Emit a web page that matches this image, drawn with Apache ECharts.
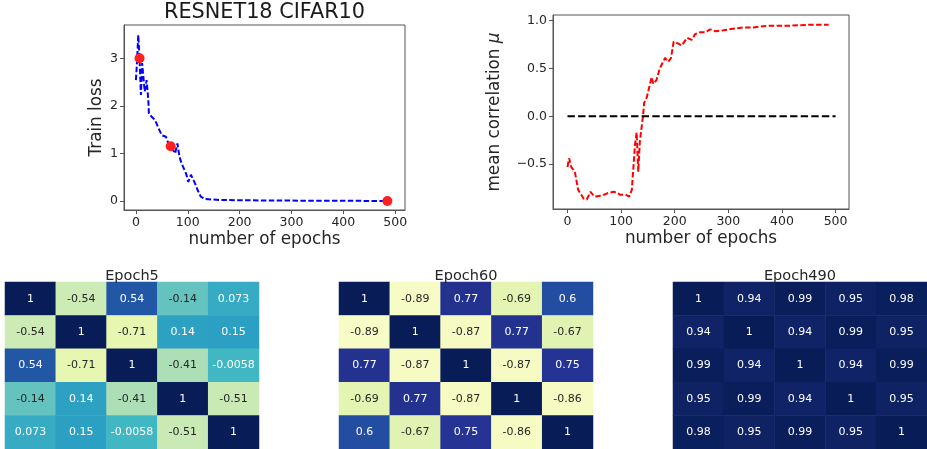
<!DOCTYPE html>
<html>
<head>
<meta charset="utf-8">
<script src="https://cdn.jsdelivr.net/npm/echarts@6/dist/echarts.min.js"></script>
<style>
html,body{margin:0;padding:0;background:#fff;}
#chart{width:927px;height:449px;}
</style>
</head>
<body>
<div id="chart"></div>
<script>
// ---- data ----
const lossEpochs = [0,2,4.5,7,9.6,12,14,17,20.6,23.9,25,30.4,37,43.5,50,58,62.7,67,75.6,80,84,88,96.6,101,106,114,119,125,133,162,250,350,490];
const lossValues = [2.54,2.9,3.49,3.0,2.23,2.9,2.86,2.3,2.54,2.12,1.84,1.77,1.70,1.53,1.38,1.35,1.21,1.15,1.0,1.21,0.93,0.79,0.58,0.40,0.55,0.37,0.23,0.09,0.04,0.02,0.01,0.005,0.0];
const markerEpochs = [7,67,485];
const markerLoss = [3.0,1.15,0.0];

const corrEpochs = [0,3,7,11,14,20,30,36,43,50,64,77,86,92,98,108,115,120,123,126,129,132,135,141,143,148,157,160,166,172,182,188,193,198,207,213,223,232,238,248,257,266,276,291,301,328,347,372,409,447,487];
const corrValues = [-0.53,-0.44,-0.53,-0.56,-0.59,-0.77,-0.86,-0.87,-0.79,-0.84,-0.83,-0.80,-0.79,-0.80,-0.82,-0.82,-0.84,-0.77,-0.53,-0.29,-0.17,-0.58,-0.26,0.01,0.14,0.2,0.41,0.34,0.38,0.50,0.61,0.57,0.61,0.78,0.76,0.74,0.82,0.80,0.86,0.88,0.88,0.91,0.89,0.90,0.91,0.93,0.93,0.947,0.947,0.957,0.957];
const zeroLineX = [0,500];
const zeroLineY = [0,0];

const epochTickValues = [0,100,200,300,400,500];
const lossTickValues = [0,1,2,3];
const corrTickValues = [-0.5,0,0.5,1.0];

const heatTitles = ['Epoch5','Epoch60','Epoch490'];
const epoch5 = [[1,-0.54,0.54,-0.14,0.073],[-0.54,1,-0.71,0.14,0.15],[0.54,-0.71,1,-0.41,-0.0058],[-0.14,0.14,-0.41,1,-0.51],[0.073,0.15,-0.0058,-0.51,1]];
const epoch60 = [[1,-0.89,0.77,-0.69,0.6],[-0.89,1,-0.87,0.77,-0.67],[0.77,-0.87,1,-0.87,0.75],[-0.69,0.77,-0.87,1,-0.86],[0.6,-0.67,0.75,-0.86,1]];
const epoch490 = [[1,0.94,0.99,0.95,0.98],[0.94,1,0.94,0.99,0.95],[0.99,0.94,1,0.94,0.99],[0.95,0.99,0.94,1,0.95],[0.98,0.95,0.99,0.95,1]];
const cellIdx = [0,1,2,3,4];

// ---- build ----
const FONT = 'DejaVu Sans';
const TXT = '#262626';
const AX = '#555';
const ylgnbu = ['#ffffd9','#edf8b1','#c7e9b4','#7fcdbb','#41b6c4','#1d91c0','#225ea8','#253494','#081d58'];

function pairs(xs, ys){ return xs.map((x,i)=>[x, ys[i]]); }
function heatData(m){
  const out = [];
  m.forEach((row, r) => row.forEach((v, c) => {
    out.push({value:[c, r, v], label:{color: v < -0.1 ? TXT : '#ffffff'}});
  }));
  return out;
}
const minusFmt = v => (v < 0 ? '\u2212' : '') + Math.abs(v).toFixed(1);

const lineAxisCommon = {
  type:'value',
  axisLine:{show:true, onZero:false, lineStyle:{color:AX, width:1}},
  axisTick:{show:true, length:4, lineStyle:{color:AX}},
  splitLine:{show:false},
  nameLocation:'middle',
  nameTextStyle:{fontFamily:FONT, fontSize:16.8, color:TXT}
};

const heatGrids = [
  {left:5, top:282, width:254, height:168},
  {left:339, top:282, width:254, height:168},
  {left:673, top:282, width:254, height:168}
];

const option = {
  animation:false,
  backgroundColor:'#fff',
  title:[
    {text:'RESNET18 CIFAR10', left:264.5, top:2, textAlign:'center', padding:0,
     textStyle:{fontFamily:FONT, fontSize:20.8, fontWeight:'normal', color:'#1a1a1a'}},
    ...heatTitles.map((t,i)=>({text:t, left:heatGrids[i].left+127, top:269, textAlign:'center', padding:0,
     textStyle:{fontFamily:FONT, fontSize:14.5, fontWeight:'normal', color:TXT}}))
  ],
  grid:[
    {left:124, top:25, width:281, height:185, show:true, borderColor:AX, borderWidth:1},
    {left:553, top:15, width:296, height:194, show:true, borderColor:AX, borderWidth:1},
    ...heatGrids
  ],
  xAxis:[
    Object.assign({}, lineAxisCommon, {gridIndex:0, min:-23, max:519, name:'number of epochs', nameGap:21,
      axisTick:{show:true, length:4, lineStyle:{color:AX}, customValues:epochTickValues},
      axisLabel:{fontFamily:FONT, fontSize:12.5, color:TXT, margin:6, customValues:epochTickValues}}),
    Object.assign({}, lineAxisCommon, {gridIndex:1, min:-27, max:525, name:'number of epochs', nameGap:21,
      axisTick:{show:true, length:4, lineStyle:{color:AX}, customValues:epochTickValues},
      axisLabel:{fontFamily:FONT, fontSize:12.5, color:TXT, margin:6, customValues:epochTickValues}}),
    {type:'category', gridIndex:2, data:cellIdx, show:false},
    {type:'category', gridIndex:3, data:cellIdx, show:false},
    {type:'category', gridIndex:4, data:cellIdx, show:false}
  ],
  yAxis:[
    Object.assign({}, lineAxisCommon, {gridIndex:0, min:-0.19, max:3.70, name:'Train loss', nameGap:19,
      axisTick:{show:true, length:4, lineStyle:{color:AX}, customValues:lossTickValues},
      axisLabel:{fontFamily:FONT, fontSize:12.5, color:TXT, margin:6, customValues:lossTickValues}}),
    Object.assign({}, lineAxisCommon, {gridIndex:1, min:-0.97, max:1.06, name:'mean correlation {i|μ}', nameGap:50,
      nameTextStyle:{fontFamily:FONT, fontSize:16.8, color:TXT, rich:{i:{fontFamily:FONT, fontSize:16.8, fontStyle:'italic', color:TXT}}},
      axisTick:{show:true, length:4, lineStyle:{color:AX}, customValues:corrTickValues},
      axisLabel:{fontFamily:FONT, fontSize:12.5, color:TXT, margin:6, customValues:corrTickValues, formatter:minusFmt}}),
    {type:'category', gridIndex:2, data:cellIdx, show:false, inverse:true},
    {type:'category', gridIndex:3, data:cellIdx, show:false, inverse:true},
    {type:'category', gridIndex:4, data:cellIdx, show:false, inverse:true}
  ],
  visualMap:{
    show:false, type:'continuous', min:-1, max:1, dimension:2, seriesIndex:[4,5,6],
    inRange:{color:ylgnbu}
  },
  series:[
    {type:'line', xAxisIndex:0, yAxisIndex:0, data:pairs(lossEpochs, lossValues), showSymbol:false, symbol:'none',
     lineStyle:{color:'#0000ff', width:2, type:[5.5,2.4]}, z:2},
    {type:'scatter', xAxisIndex:0, yAxisIndex:0, data:pairs(markerEpochs, markerLoss), symbolSize:10,
     itemStyle:{color:'#ff2020', opacity:1}, z:3},
    {type:'line', xAxisIndex:1, yAxisIndex:1, data:pairs(corrEpochs, corrValues), showSymbol:false, symbol:'none',
     lineStyle:{color:'#ff0000', width:2, type:[5.5,2.4]}, z:2},
    {type:'line', xAxisIndex:1, yAxisIndex:1, data:pairs(zeroLineX, zeroLineY), showSymbol:false, symbol:'none',
     lineStyle:{color:'#000000', width:2, type:[7.4,3.2]}, z:2},
    ...[epoch5, epoch60, epoch490].map((m,i)=>({
      type:'heatmap', xAxisIndex:2+i, yAxisIndex:2+i, data:heatData(m),
      itemStyle:{borderWidth:0},
      label:{show:true, fontFamily:FONT, fontSize:11, formatter:p=>String(p.value[2])},
      emphasis:{disabled:true}
    }))
  ]
};

const chart = echarts.init(document.getElementById('chart'), null, {renderer:'canvas'});
chart.setOption(option);
</script>
</body>
</html>
